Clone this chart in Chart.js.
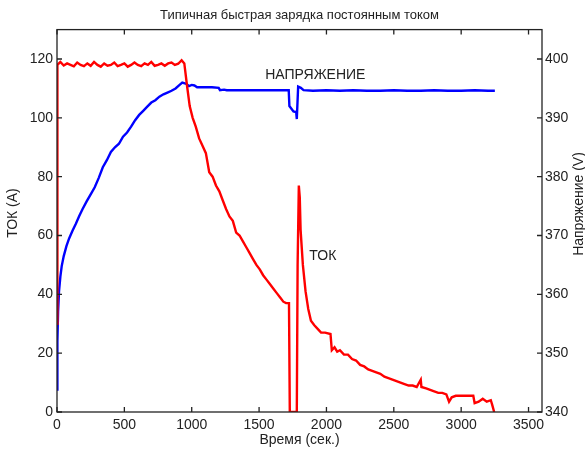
<!DOCTYPE html>
<html>
<head>
<meta charset="utf-8">
<script src="https://cdn.jsdelivr.net/npm/chart.js@4"></script>
<style>
  html, body { margin: 0; padding: 0; background: #fff; }
  #wrap { width: 585px; height: 452px; }
</style>
</head>
<body>
<div id="wrap"><canvas id="charge"></canvas></div>
<script>
// Current (A) over time (s)
const currentTime = [0, 3, 25, 50, 75, 100, 125, 150, 175, 200, 225, 250, 275, 300, 325, 350, 375, 400, 425, 450,
  475, 500, 525, 550, 575, 600, 625, 650, 675, 700, 725, 750, 775, 800, 825, 850, 875, 900, 925, 945,
  965, 985, 1007, 1030, 1055, 1080, 1105, 1130, 1155, 1180, 1205, 1230, 1255, 1280, 1305, 1330, 1355, 1380, 1405, 1430,
  1455, 1480, 1505, 1530, 1555, 1580, 1605, 1630, 1655, 1680, 1700, 1722, 1728, 1780, 1786, 1795, 1802, 1808, 1825, 1845,
  1865, 1885, 1910, 1940, 1960, 1990, 2030, 2040, 2060, 2080, 2100, 2130, 2160, 2190, 2220, 2250, 2280, 2310, 2340, 2370,
  2400, 2430, 2460, 2490, 2520, 2550, 2580, 2610, 2640, 2670, 2700, 2705, 2740, 2770, 2800, 2830, 2860, 2890, 2910, 2930,
  2960, 3000, 3040, 3090, 3100, 3130, 3160, 3190, 3220, 3230, 3245];
const currentAmps = [30, 118, 119, 117.8, 118.5, 118, 117.5, 118.8, 118, 117.6, 118.5, 117.7, 119, 118, 117.4, 118.5, 117.7, 118, 118.8, 117.6,
  118, 118.5, 117.4, 118, 118.8, 118, 117.6, 118.5, 118, 119, 117.7, 118, 118.5, 117.7, 118.5, 118.8, 118, 118.4, 119.6, 118.5,
  111, 104, 100, 97, 93, 90.5, 88, 81.5, 80, 77, 75, 72, 69, 66.5, 65, 61, 60, 58, 56, 54,
  52, 50, 48.5, 46.5, 45, 43.5, 42, 40.5, 39, 37.5, 37, 37, 0, 0, 50, 77, 73, 62, 50, 41,
  35, 31, 29.5, 28, 27, 27, 26.5, 21, 22, 20.5, 21, 19.5, 19.5, 18, 17.5, 16, 15.5, 14.5, 14, 13.5,
  13, 12, 11.5, 11, 10.5, 10, 9.5, 9, 9, 8.5, 11, 8.5, 8, 7.5, 7, 6.5, 6.5, 6, 3.5, 5,
  5.5, 5.5, 5.5, 5.5, 3, 3.5, 4.5, 3.5, 4, 2.5, 0];

// Voltage (V) over time (s)
const voltageTime = [0, 3, 8, 15, 25, 35, 50, 70, 90, 115, 140, 165, 190, 220, 250, 280, 310, 340, 370, 400,
  430, 460, 490, 520, 550, 580, 610, 640, 670, 700, 730, 760, 790, 820, 850, 880, 910, 930, 960, 980,
  1000, 1020, 1040, 1100, 1150, 1200, 1210, 1240, 1260, 1400, 1600, 1720, 1725, 1755, 1775, 1780, 1790, 1810, 1830, 1900,
  2000, 2100, 2200, 2300, 2400, 2500, 2600, 2700, 2800, 2900, 3000, 3100, 3200, 3250];
const voltageVolts = [343.8, 352, 357, 360.5, 363, 364.8, 366.5, 368.2, 369.5, 370.8, 372, 373.3, 374.5, 375.8, 377, 378.2, 379.8, 381.6, 382.8, 384.2,
  385, 385.6, 386.8, 387.5, 388.5, 389.6, 390.5, 391.2, 391.9, 392.6, 393, 393.6, 394, 394.3, 394.6, 395, 395.6, 396, 395.8, 395.4,
  395.6, 395.5, 395.2, 395.2, 395.2, 395.1, 394.7, 394.8, 394.7, 394.7, 394.7, 394.7, 392, 391.1, 391, 389.8, 395.3, 395.1, 394.7, 394.6,
  394.7, 394.6, 394.7, 394.6, 394.6, 394.7, 394.6, 394.6, 394.7, 394.6, 394.6, 394.7, 394.6, 394.6];

const timeTicks = [0, 500, 1000, 1500, 2000, 2500, 3000, 3500];
const currentTicks = [0, 20, 40, 60, 80, 100, 120];
const voltageTicks = [340, 350, 360, 370, 380, 390, 400];

const FONT = 'Liberation Sans, Arial, sans-serif';
const INK = '#222';

function pairs(xs, ys) {
  return xs.map((x, i) => ({ x: x, y: ys[i] }));
}

// box, inward tick marks, side titles and in-plot labels
const frame = {
  id: 'frame',
  afterDatasetsDraw(chart) {
    const { ctx, chartArea: a, scales } = chart;
    const len = 5;
    ctx.save();
    ctx.strokeStyle = INK;
    ctx.lineWidth = 1.3;
    ctx.strokeRect(a.left, a.top, a.right - a.left, a.bottom - a.top);
    ctx.beginPath();
    timeTicks.forEach(v => {
      const x = scales.x.getPixelForValue(v);
      ctx.moveTo(x, a.bottom); ctx.lineTo(x, a.bottom - len);
      ctx.moveTo(x, a.top); ctx.lineTo(x, a.top + len);
    });
    currentTicks.forEach(v => {
      const y = scales.y.getPixelForValue(v);
      ctx.moveTo(a.left, y); ctx.lineTo(a.left + len, y);
    });
    voltageTicks.forEach(v => {
      const y = scales.y2.getPixelForValue(v);
      ctx.moveTo(a.right, y); ctx.lineTo(a.right - len, y);
    });
    ctx.stroke();

    ctx.fillStyle = INK;
    ctx.font = '14px ' + FONT;
    ctx.textAlign = 'center';
    ctx.textBaseline = 'middle';
    ctx.save();
    ctx.translate(13, 213);
    ctx.rotate(-Math.PI / 2);
    ctx.fillText('ТОК (A)', 0, 0);
    ctx.restore();
    ctx.save();
    ctx.translate(579, 204);
    ctx.rotate(-Math.PI / 2);
    ctx.fillText('Напряжение (V)', 0, 0);
    ctx.restore();

    ctx.textAlign = 'left';
    ctx.fillText('НАПРЯЖЕНИЕ', scales.x.getPixelForValue(1545), scales.y.getPixelForValue(114.5));
    ctx.fillText('ТОК', scales.x.getPixelForValue(1873), scales.y.getPixelForValue(53));
    ctx.restore();
  }
};

const tickFont = { family: FONT, size: 14 };
const plain = v => String(v);

new Chart(document.getElementById('charge'), {
  type: 'line',
  data: {
    datasets: [{
      label: 'ТОК',
      data: pairs(currentTime, currentAmps),
      yAxisID: 'y',
      borderColor: '#ff0000',
      borderWidth: 2.4,
      pointRadius: 0,
      tension: 0
    }, {
      label: 'НАПРЯЖЕНИЕ',
      data: pairs(voltageTime, voltageVolts),
      yAxisID: 'y2',
      borderColor: '#0000ff',
      borderWidth: 2.4,
      pointRadius: 0,
      tension: 0
    }]
  },
  options: {
    responsive: true,
    maintainAspectRatio: false,
    animation: false,
    layout: { padding: 0 },
    plugins: {
      legend: { display: false },
      tooltip: { enabled: false },
      title: {
        display: true,
        text: 'Типичная быстрая зарядка постоянным током',
        color: INK,
        font: { family: FONT, size: 13, weight: 'normal' },
        padding: { top: 8, bottom: 6 },
        fullSize: false
      }
    },
    scales: {
      x: {
        type: 'linear',
        min: 0,
        max: 3600,
        afterBuildTicks: s => { s.ticks = timeTicks.map(v => ({ value: v })); },
        afterFit: s => { s.height = 40; },
        grid: { display: false, drawTicks: false },
        border: { display: false },
        ticks: { color: INK, font: tickFont, padding: 5, maxRotation: 0, callback: plain },
        title: {
          display: true,
          text: 'Время (сек.)',
          color: INK,
          font: { family: FONT, size: 14 },
          padding: { top: 0, bottom: 3 }
        }
      },
      y: {
        position: 'left',
        min: 0,
        max: 130,
        afterBuildTicks: s => { s.ticks = currentTicks.map(v => ({ value: v })); },
        afterFit: s => { s.width = 57; },
        grid: { display: false, drawTicks: false },
        border: { display: false },
        ticks: { color: INK, font: tickFont, padding: 4, callback: plain }
      },
      y2: {
        position: 'right',
        min: 340,
        max: 405,
        afterBuildTicks: s => { s.ticks = voltageTicks.map(v => ({ value: v })); },
        afterFit: s => { s.width = 43; },
        grid: { display: false, drawTicks: false },
        border: { display: false },
        ticks: { color: INK, font: tickFont, padding: 3, callback: plain }
      }
    }
  },
  plugins: [frame]
});
</script>
</body>
</html>
